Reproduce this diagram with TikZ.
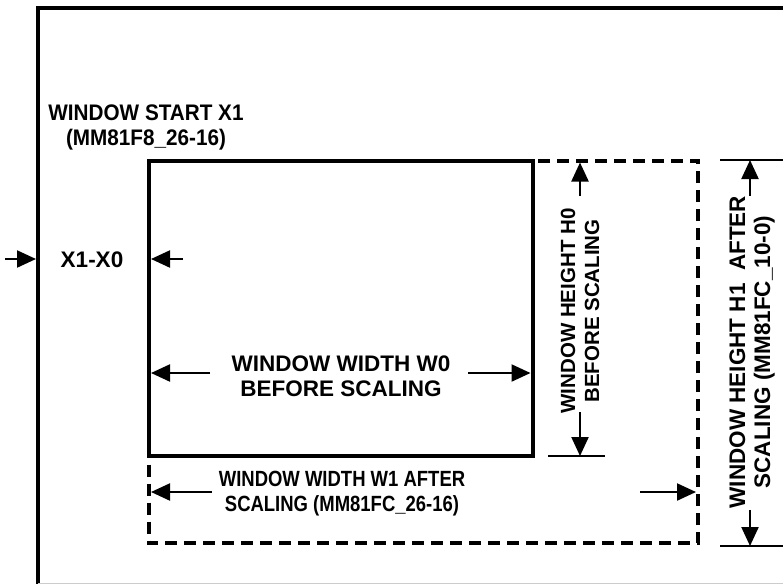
\documentclass[tikz,border=0pt]{standalone}
\usepackage{fontspec}
\setmainfont{Liberation Sans}
\newfontfamily\startfont{Liberation Sans}[FakeStretch=0.92]
\newfontfamily\narrowfont{Liberation Sans}[FakeStretch=0.84]
\usepackage{tikz}
\usetikzlibrary{arrows.meta,positioning,calc}

\begin{document}
\begin{tikzpicture}[x=1pt,y=-1pt,
  lbl/.style={font=\fontsize{22.5}{25}\selectfont\bfseries,align=center,inner sep=0pt},
  startlbl/.style={lbl,font=\fontsize{22.5}{25}\selectfont\startfont\bfseries},
  narrowlbl/.style={lbl,font=\fontsize{22}{25}\selectfont\narrowfont\bfseries},
  hlbl/.style={lbl,font=\fontsize{20.5}{24}\selectfont\bfseries},
  dimarrow/.style={-{Triangle[length=19pt,width=17pt]},line width=2.2pt},
  tickline/.style={line width=2pt},
  winedge/.style={line width=4pt}]
\useasboundingbox (0,0) rectangle (783,584);
% frame of the active area, cut off at right and bottom
\draw[line width=4.5pt] (38,584) -- (38,8) -- (783,8);
\draw[black!20,line width=1pt] (38,583) -- (783,583);
% window corners
\coordinate (w0nw) at (148.5,160.5);
\coordinate (w0se) at (532.5,456);
\coordinate (w1se) at (698,543);
\draw[winedge,dash pattern=on 12pt off 7pt] (w0nw) rectangle (w1se);
\draw[winedge] (w0nw) rectangle (w0se);
% labels
\node[startlbl] (start) at (146,127) {WINDOW START X1\\(MM81F8\_26-16)};
\node[lbl] (x1x0) at (92,260) {X1-X0};
\node[lbl] (w0) at (341,376) {WINDOW WIDTH W0\\BEFORE SCALING};
\node[narrowlbl] (w1) at (342,494) {WINDOW WIDTH W1 AFTER\\SCALING (MM81FC\_26-16)};
\node[hlbl,rotate=90] (h0) at (580,311) {WINDOW HEIGHT H0\\BEFORE SCALING};
\node[lbl,rotate=90] (h1) at (752,352) {WINDOW HEIGHT H1\ \ AFTER\\SCALING (MM81FC\_10-0)};
% X1-X0
\coordinate (xa) at (5,259);
\coordinate (xb) at (36,259);
\coordinate (xc) at (183,259);
\coordinate (xd) at (151,259);
\draw[dimarrow] (xa) -- (xb);
\draw[dimarrow] (xc) -- (xd);
% width W0
\draw[dimarrow] (210,373) coordinate (w0a) -- (w0a -| 151,0);
\draw[dimarrow] (468,373) coordinate (w0b) -- (w0b -| 530.5,0);
% width W1
\draw[dimarrow] (212,492) coordinate (w1a) -- (w1a -| 151,0);
\draw[dimarrow] (640,492) coordinate (w1b) -- (w1b -| 696,0);
% height H0
\draw[tickline] (548,456) coordinate (h0t) -- (605,456);
\draw[dimarrow] (580,196) coordinate (h0a) -- (h0a |- 0,162.5);
\draw[dimarrow] (580,412) coordinate (h0b) -- (h0b |- h0t);
% height H1
\draw[tickline] (720,160) coordinate (h1t) -- (783,160);
\draw[tickline] (720,546) coordinate (h1u) -- (783,546);
\draw[dimarrow] (750,196) coordinate (h1a) -- (h1a |- h1t);
\draw[dimarrow] (750,510) coordinate (h1b) -- (h1b |- h1u);
\end{tikzpicture}
\end{document}
